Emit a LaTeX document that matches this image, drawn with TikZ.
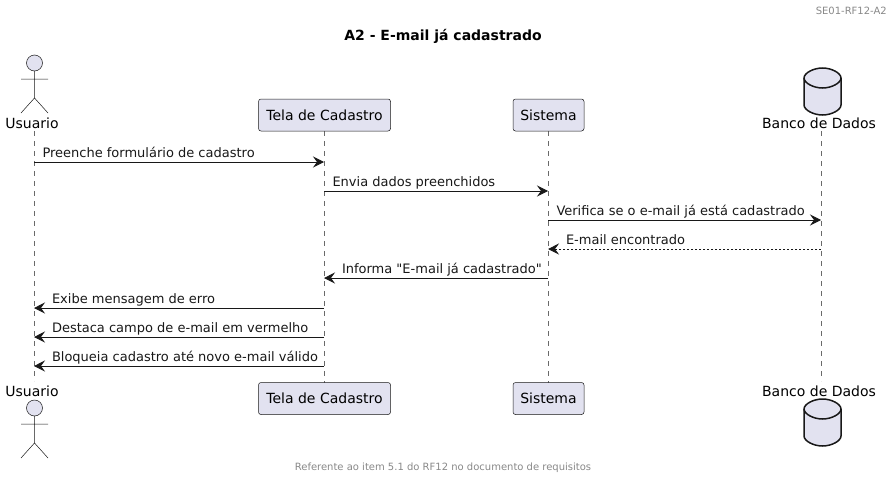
\documentclass[tikz,border=0pt]{standalone}
\usepackage{fontspec}
\setmainfont[Ligatures=TeXOff]{DejaVu Sans}
\usetikzlibrary{arrows.meta,positioning}
\definecolor{boxfill}{HTML}{E2E2F0}
\definecolor{linedark}{HTML}{181818}
\definecolor{notegray}{HTML}{888888}
\tikzset{
	box/.style={draw=linedark,line width=0.5pt,fill=boxfill,rounded corners=2.5pt,minimum height=32pt,inner sep=0pt,font=\fontsize{14}{16}\selectfont},
	lbl/.style={inner sep=0pt,font=\fontsize{14}{16}\selectfont},
	life/.style={draw=linedark!65,line width=0.5pt,dash pattern=on 5pt off 5pt},
	msg/.style={draw=linedark,line width=1pt,-{Stealth[length=11pt,width=11pt,inset=4pt]}},
	msgtxt/.style={inner sep=0pt,anchor=base west,yshift=5pt,text=linedark,font=\fontsize{13}{15}\selectfont},
	tor/.style={msgtxt,pos=0,xshift=8pt},
	tol/.style={msgtxt,pos=1,xshift=17.5pt},
	pics/stick/.style={code={
		\draw[draw=linedark,line width=0.5pt,fill=boxfill] (0,-50) circle (8);
		\draw[draw=linedark,line width=0.5pt] (0,-42) -- (0,-15) (-13.5,-34) -- (13.5,-34)
			(-13.5,0) -- (0,-15) -- (13.5,0);
	}},
	pics/cyl/.style={code={
		\draw[draw=linedark,line width=1.5pt,fill=boxfill] (-18.5,-10) -- (-18.5,-37)
			.. controls (-18.5,-42) and (-9,-47) .. (0,-47)
			.. controls (9,-47) and (18.5,-42) .. (18.5,-37) -- (18.5,-10)
			.. controls (18.5,-5) and (9,0) .. (0,0)
			.. controls (-9,0) and (-18.5,-5) .. (-18.5,-10) -- cycle;
		\draw[draw=linedark,line width=1.5pt] (-18.5,-37)
			.. controls (-18.5,-32) and (-9,-27) .. (0,-27)
			.. controls (9,-27) and (18.5,-32) .. (18.5,-37);
	}}
}
\begin{document}
\begin{tikzpicture}[x=1pt,y=-1pt]
	\useasboundingbox (0,0) rectangle (893,479);
	% header and title
	\node [inner sep=0pt,anchor=east,text=notegray,font=\fontsize{10}{12}\selectfont] (hdr) at (887,10.5) {SE01-RF12-A2};
	\node [inner sep=0pt,font=\bfseries\fontsize{14}{16}\selectfont] (title) at (443,36.5) {A2 - E-mail já cadastrado};
	\node [inner sep=0pt,text=notegray,font=\fontsize{10}{12}\selectfont] (ftr) at (443,468) {Referente ao item 5.1 do RF12 no documento de requisitos};
	% lifelines
	\draw [life] (34,131) coordinate (uTop) -- (34,381) coordinate (uBot);
	\draw [life] (324,131) coordinate (tTop) -- (324,383) coordinate (tBot);
	\draw [life] (548,131) coordinate (sTop) -- (548,383) coordinate (sBot);
	\draw [life] (821.5,131) coordinate (dTop) -- (821.5,381) coordinate (dBot);
	% top row
	\pic at (34.5,113) {stick};
	\node [lbl] (usuA) at (32,123) {Usuario};
	\node [box,minimum width=132pt] (telaA) at (324.5,115) {Tela de Cadastro};
	\node [box,minimum width=71pt] (sisA) at (548.5,115) {Sistema};
	\pic at (822.5,115) {cyl};
	\node [lbl] (banA) at (819,123) {Banco de Dados};
	% bottom row
	\pic at (34.5,458) {stick};
	\node [lbl] (usuB) at (32,391) {Usuario};
	\node [box,minimum width=132pt] (telaB) at (324.5,398.5) {Tela de Cadastro};
	\node [box,minimum width=71pt] (sisB) at (548.5,398.5) {Sistema};
	\pic at (822.5,446) {cyl};
	\node [lbl] (banB) at (819,391) {Banco de Dados};
	% message ends
	\path
		(34,162) coordinate (u1) (324,162) coordinate (t1)
		(324,191) coordinate (t2) (548,191) coordinate (s2)
		(548,220) coordinate (s3) (821,220) coordinate (d3)
		(821,249) coordinate (d4) (548,249) coordinate (s4)
		(548,278) coordinate (s5) (324,278) coordinate (t5)
		(324,308) coordinate (t6) (34,308) coordinate (u6)
		(324,337) coordinate (t7) (34,337) coordinate (u7)
		(324,366) coordinate (t8) (34,366) coordinate (u8)
		;
	\draw [msg] (u1) -- node [tor] {Preenche formulário de cadastro} (t1);
	\draw [msg] (t2) -- node [tor] {Envia dados preenchidos} (s2);
	\draw [msg] (s3) -- node [tor] {Verifica se o e-mail já está cadastrado} (d3);
	\draw [msg,dash pattern=on 2pt off 2pt] (d4) -- node [tol,yshift=-0.5pt] {E-mail encontrado} (s4);
	\draw [msg] (s5) -- node [tol,yshift=-0.5pt] {Informa "E-mail já cadastrado"} (t5);
	\draw [msg] (t6) -- node [tol] {Exibe mensagem de erro} (u6);
	\draw [msg] (t7) -- node [tol] {Destaca campo de e-mail em vermelho} (u7);
	\draw [msg] (t8) -- node [tol] {Bloqueia cadastro até novo e-mail válido} (u8);
\end{tikzpicture}
\end{document}
